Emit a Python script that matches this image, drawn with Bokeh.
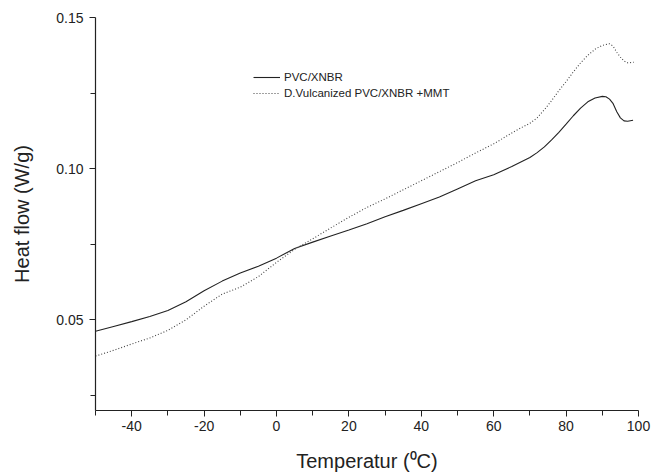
from bokeh.plotting import figure
from bokeh.models import FixedTicker, PrintfTickFormatter, Legend, LegendItem
from bokeh.embed import file_html
from bokeh.resources import INLINE

# Temperature (°C) and heat flow (W/g)
temp_pvc = [-50, -45, -40, -35, -30, -25, -20, -15, -10, -5, 0, 5, 10, 15, 20, 25, 30, 35, 40, 45,
            50, 55, 60, 65, 70, 72, 74, 76, 78, 80, 82, 84, 86, 88, 90, 91, 92, 93, 94, 95, 96, 97, 98.5]
heat_pvc = [0.0462, 0.0478, 0.0494, 0.0511, 0.0531, 0.0560, 0.0596, 0.0628, 0.0655, 0.0677, 0.0704,
            0.0736, 0.0757, 0.0777, 0.0797, 0.0818, 0.0841, 0.0862, 0.0884, 0.0906,
            0.0933, 0.0960, 0.0980, 0.1007, 0.1037, 0.1053, 0.1072, 0.1095, 0.1120, 0.1147,
            0.1175, 0.1200, 0.1221, 0.1234, 0.1239, 0.1238, 0.1230, 0.1215, 0.1188, 0.1168,
            0.1158, 0.1157, 0.1160]

temp_mmt = [-50, -45, -40, -35, -30, -25, -20, -15, -10, -5, 0, 5, 10, 15, 20, 25, 30, 35, 40, 45,
            50, 55, 60, 65, 68, 70, 72, 74, 76, 78, 80, 82, 84, 86, 88, 90, 92, 93, 94, 95, 96, 97, 98.7]
heat_mmt = [0.0380, 0.0399, 0.0420, 0.0440, 0.0465, 0.0500, 0.0545, 0.0585, 0.0608, 0.0643, 0.0690,
            0.0733, 0.0768, 0.0804, 0.0839, 0.0872, 0.0900, 0.0930, 0.0960, 0.0990,
            0.1020, 0.1052, 0.1082, 0.1118, 0.1138, 0.1150, 0.1168, 0.1195, 0.1225, 0.1258,
            0.1288, 0.1320, 0.1350, 0.1375, 0.1395, 0.1408, 0.1413, 0.1405, 0.1385, 0.1369,
            0.1356, 0.1350, 0.1352]

x_major = [-40, -20, 0, 20, 40, 60, 80, 100]
x_minor = [-50, -30, -10, 10, 30, 50, 70, 90]
y_major = [0.05, 0.10, 0.15]
y_minor = [0.025, 0.075, 0.125]

label_pvc = "PVC/XNBR"
label_mmt = "D.Vulcanized PVC/XNBR +MMT"

FONT = "Liberation Sans"

p = figure(width=655, height=475, x_range=(-50, 100), y_range=(0.02, 0.15),
           output_backend="svg", toolbar_location=None,
           min_border_left=95, min_border_right=17, min_border_top=17, min_border_bottom=65)
p.outline_line_color = None
p.xgrid.visible = False
p.ygrid.visible = False
p.background_fill_color = "white"
p.border_fill_color = "white"

r1 = p.line(temp_pvc, heat_pvc, line_color="#222222", line_width=1.1)
r2 = p.line(temp_mmt, heat_mmt, line_color="#444444", line_width=1.1, line_dash="1 2")

p.xaxis.ticker = FixedTicker(ticks=x_major, minor_ticks=x_minor)
p.yaxis.ticker = FixedTicker(ticks=y_major, minor_ticks=y_minor)
p.yaxis.formatter = PrintfTickFormatter(format="%.2f")
p.xaxis.formatter = PrintfTickFormatter(format="%d")

for ax in (p.xaxis, p.yaxis):
    ax.axis_line_color = "#222222"
    ax.axis_line_width = 1.2
    ax.major_tick_line_color = "#222222"
    ax.minor_tick_line_color = "#222222"
    ax.major_tick_in = 0
    ax.major_tick_out = 6
    ax.minor_tick_in = 0
    ax.minor_tick_out = 5
    ax.major_label_text_font = FONT
    ax.major_label_text_font_size = "14px"
    ax.major_label_text_color = "#222222"
    ax.axis_label_text_font = FONT
    ax.axis_label_text_font_size = "20px"
    ax.axis_label_text_font_style = "normal"
    ax.axis_label_text_color = "#222222"

p.xaxis.axis_label = "Temperatur (\u2070C)"
p.yaxis.axis_label = "Heat flow (W/g)"
p.xaxis.major_label_standoff = 4
p.yaxis.major_label_standoff = 6
p.xaxis.axis_label_standoff = 16
p.yaxis.axis_label_standoff = 20

legend = Legend(items=[LegendItem(label=label_pvc, renderers=[r1]),
                       LegendItem(label=label_mmt, renderers=[r2])],
                location=(158, 310))
legend.border_line_color = None
legend.background_fill_alpha = 0
legend.label_text_font = FONT
legend.label_text_font_size = "11.5px"
legend.label_text_color = "#222222"
legend.glyph_width = 27
legend.glyph_height = 14
legend.label_height = 14
legend.spacing = 2
legend.padding = 0
legend.margin = 0
legend.label_standoff = 4
p.add_layout(legend)

open("out.html", "w").write(file_html(p, INLINE))
